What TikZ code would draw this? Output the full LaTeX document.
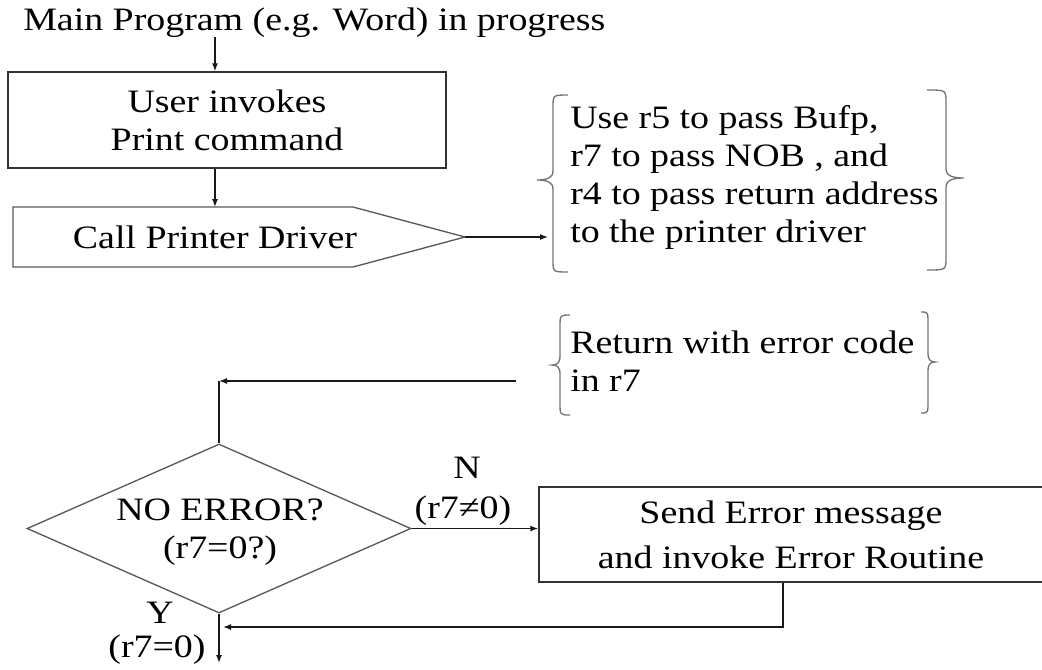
\documentclass[tikz,border=0pt]{standalone}
\usepackage{fontspec}
\setmainfont[FakeStretch=1.16]{Liberation Serif}
\usetikzlibrary{shapes.geometric,arrows.meta}
\newcommand{\mybrace}[6]{(#1,#4) .. controls (#2,#4) and (#2,#4) .. (#2,{#4+12}) -- (#2,{#5-9}) .. controls (#2,{#5-2}) and ({#2+0.4*(#3-#2)},#5) .. (#3,#5) .. controls ({#2+0.4*(#3-#2)},#5) and (#2,{#5+2}) .. (#2,{#5+9}) -- (#2,{#6-12}) .. controls (#2,#6) and (#2,#6) .. (#1,#6)}
\begin{document}
\begin{tikzpicture}[x=0.75pt,y=-0.75pt,
  every node/.style={font=\fontsize{24.5}{28.5}\selectfont, inner sep=0pt},
  line/.style={draw=black!90, line width=1pt},
  arr/.style={line, -{Latex[length=6pt,width=4.5pt]}},
  box/.style={draw=black!80, line width=1pt, rectangle, align=center},
  shp/.style={draw=black!65, line width=1pt},
  brc/.style={draw=black!55, line width=1pt},
  lbl/.style={anchor=base}]
\useasboundingbox (0,0) rectangle (1042,669);
\clip (0,0) rectangle (1042,669);
\coordinate (c1) at (215,0);
% title and first box
\node[anchor=base west] (title) at (23,30) {Main Program (e.g. Word) in progress};
\node[box, minimum width=328.5pt, minimum height=72pt] (user) at (227,120) {User invokes\\Print command};
\draw[arr] (title.south -| c1) -- (user.north -| c1);
% pentagon
\draw[shp] (13,207) coordinate (ptop) -- (353,207) -- (465,237) coordinate (ptip) -- (353,267) -- (13,267) -- cycle;
\node[lbl] (call) at (215,248) {Call Printer Driver};
\draw[arr] (user.south -| c1) -- (ptop -| c1);
% brace 1
\coordinate (b1in) at (548,237);
\draw[arr] (ptip) -- (b1in);
\draw[brc] \mybrace{568}{553}{537}{95}{180}{272};
\draw[brc] \mybrace{927}{946}{964}{90}{178}{270};
\node[anchor=base west] (t1) at (570,128) {\begin{tabular}[t]{@{}l@{}}Use r5 to pass Bufp,\\ r7 to pass NOB , and\\ r4 to pass return address\\ to the printer driver\end{tabular}};
% brace 2
\draw[brc] \mybrace{570}{560}{552}{315}{365}{415};
\draw[brc] \mybrace{921}{928}{935}{312}{362}{413};
\node[anchor=base west] (t2) at (570,353) {\begin{tabular}[t]{@{}l@{}}Return with error code\\ in r7\end{tabular}};
% diamond
\node[diamond, shp, aspect=2.27, minimum width=288pt, minimum height=126.75pt] (dia) at (219,528.5) {};
\node[anchor=base] (diatext) at (220,520) {\begin{tabular}[t]{@{}c@{}}NO ERROR?\\ (r7=0?)\end{tabular}};
\coordinate (r1) at (516,381);
\draw[line] (dia.north) -- (dia.north |- r1);
\draw[arr] (r1) -- (dia.north |- r1);
% error box
\node[box, minimum width=378pt, minimum height=71.25pt] (err) at (791,534.5) {Send Error message\\[5.25pt]and invoke Error Routine};
\draw[arr] (dia.east) -- (dia.east -| err.west);
\node[lbl] (nlab) at (467,478) {N};
\node[lbl] (nexpr) at (463,518) {(r7≠0)};
\coordinate (e1) at (783,627);
\draw[arr] (err.south -| e1) -- (e1) -- ([xshift=3pt]dia.south |- e1);
\coordinate (out) at (219,663);
\draw[arr] (dia.south) -- (out);
\node[lbl] (ylab) at (160,623) {Y};
\node[lbl] (yexpr) at (157,657) {(r7=0)};
\end{tikzpicture}
\end{document}
